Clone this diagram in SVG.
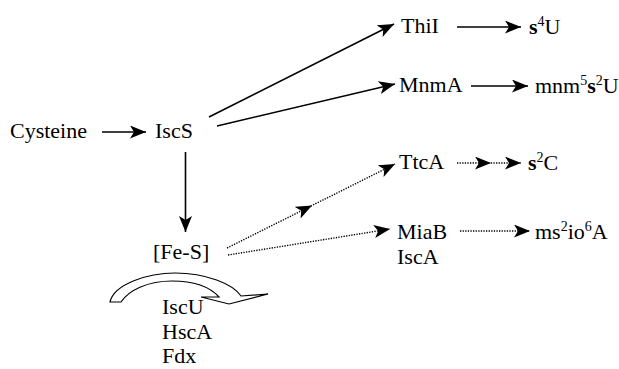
<svg xmlns="http://www.w3.org/2000/svg" width="619" height="369" viewBox="0 0 619 369">
<style>
  text { font-family: "Liberation Serif", "Times New Roman", serif; font-size: 22px; fill: #000; }
  .b { font-weight: bold; }
  .sup { font-size: 14px; }
  .solid { stroke: #000; stroke-width: 1.6; fill: none; }
  .dot { stroke: #000; stroke-width: 1.4; fill: none; stroke-dasharray: 1.3 1.3; }
</style>
<defs>
  <marker id="ah" markerUnits="userSpaceOnUse" markerWidth="17" markerHeight="13" refX="16" refY="6.5" orient="auto">
    <path d="M0,0 L16,6.5 L0,13 L4,6.5 Z" fill="#000"/>
  </marker>
</defs>
<rect width="619" height="369" fill="#fff"/>
<g id="connectors">
  <line class="solid" x1="102" y1="132" x2="146" y2="132" marker-end="url(#ah)"/>
  <line class="solid" x1="209" y1="117" x2="394" y2="24" marker-end="url(#ah)"/>
  <line class="solid" x1="217" y1="126" x2="395" y2="84" marker-end="url(#ah)"/>
  <line class="solid" x1="185.5" y1="152" x2="185.5" y2="232" marker-end="url(#ah)"/>
  <line class="solid" x1="457" y1="27" x2="521" y2="27" marker-end="url(#ah)"/>
  <line class="solid" x1="471" y1="86" x2="528" y2="86" marker-end="url(#ah)"/>
  <polyline class="dot" points="227,248 312,205.5 395,164" marker-mid="url(#ah)" marker-end="url(#ah)"/>
  <line class="dot" x1="228" y1="255" x2="390" y2="229" marker-end="url(#ah)"/>
  <polyline class="dot" points="457,163 491,163 521,163" marker-mid="url(#ah)" marker-end="url(#ah)"/>
  <line class="dot" x1="460" y1="231" x2="530" y2="231" marker-end="url(#ah)"/>
  <path d="M110,302 C114,284 148,273 175,273 C206,273 233,284 241,296 L268,294 L229,304 L201,297 L219,297 C210,287 195,281 172,281 C148,281 129,290 121,302 Z" fill="#fff" stroke="#000" stroke-width="1.2"/>
</g>
<g id="cysteine"><text x="10" y="138">Cysteine</text></g>
<g id="iscs"><text x="155" y="138">IscS</text></g>
<g id="thii"><text x="401" y="33">ThiI</text></g>
<g id="s4u"><text x="529" y="34"><tspan class="b">s</tspan><tspan class="sup" dy="-8">4</tspan><tspan dy="8">U</tspan></text></g>
<g id="mnma"><text x="399" y="92">MnmA</text></g>
<g id="mnm5s2u"><text x="535" y="93">mnm<tspan class="sup" dy="-8">5</tspan><tspan class="b" dy="8">s</tspan><tspan class="sup" dy="-8">2</tspan><tspan dy="8">U</tspan></text></g>
<g id="ttca"><text x="399" y="169">TtcA</text></g>
<g id="s2c"><text x="528" y="170"><tspan class="b">s</tspan><tspan class="sup" dy="-8">2</tspan><tspan dy="8">C</tspan></text></g>
<g id="feS"><text x="153" y="259">[Fe-S]</text></g>
<g id="miab"><text x="397" y="239">MiaB</text><text x="397" y="264">IscA</text></g>
<g id="ms2io6a"><text x="535" y="239">ms<tspan class="sup" dy="-8">2</tspan><tspan dy="8">io</tspan><tspan class="sup" dy="-8">6</tspan><tspan dy="8">A</tspan></text></g>
<g id="iscu"><text x="162" y="314">IscU</text><text x="162" y="339">HscA</text><text x="162" y="363">Fdx</text></g>
</svg>
